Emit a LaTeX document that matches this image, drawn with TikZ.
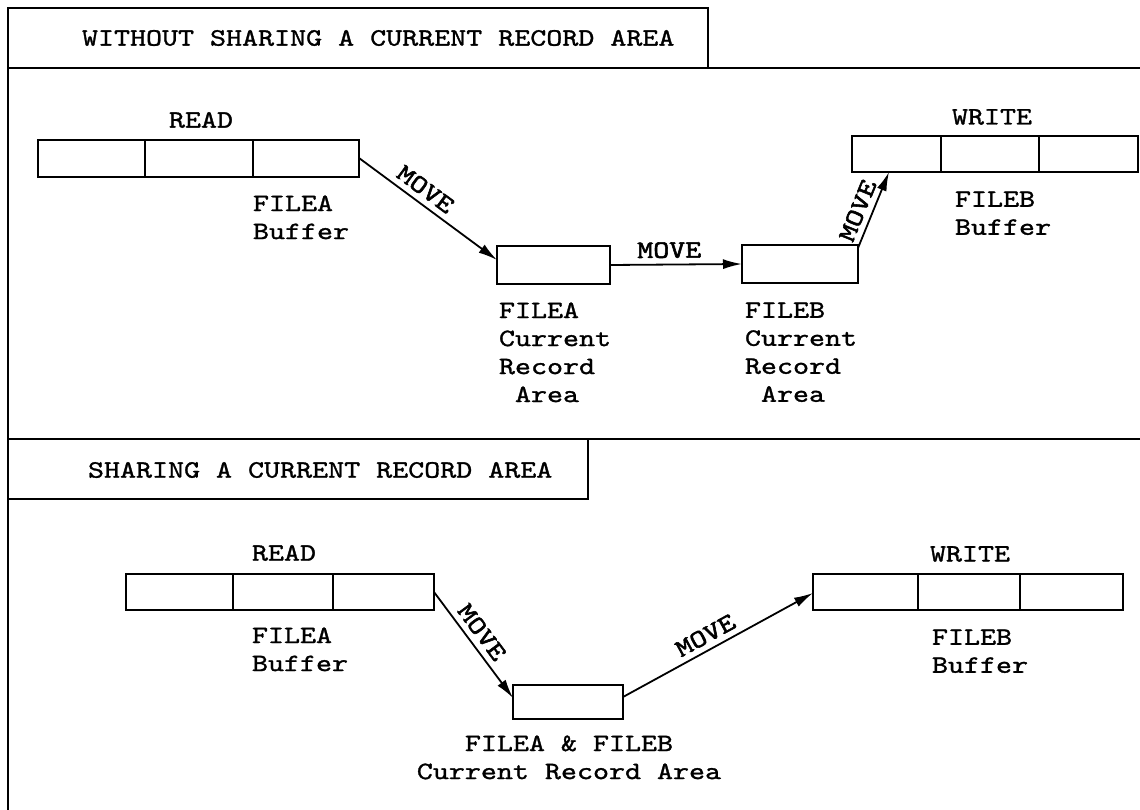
\documentclass[tikz,border=0pt]{standalone}
\usepackage{fontspec}
\newfontfamily\tw{lmmono10-regular}[Extension=.otf, FakeStretch=1.22, FakeBold=1.2]
\newfontfamily\twb{lmmono10-regular}[Extension=.otf, FakeStretch=1.22, FakeBold=2.2]
\usetikzlibrary{arrows.meta,calc}
\begin{document}
\begin{tikzpicture}[x=1pt,y=-1pt,
  every node/.style={font=\tw\fontsize{25}{28}\selectfont, inner sep=0pt, outer sep=0pt},
  frame/.style={line width=2.2pt, line cap=rect},
  box/.style={draw, line width=1.8pt, anchor=north west},
  arr/.style={-{Latex[length=19pt,width=10pt]}, line width=1.8pt},
  txt/.style={align=left, anchor=north west},
  lbl/.style={sloped, above=6.5pt, font=\twb\fontsize{25}{28}\selectfont}]
\useasboundingbox (0,0) rectangle (1140,810);
% frame
\draw[frame] (8,810) -- (8,8) -- (708,8) -- (708,68);
\draw[frame] (8,68) -- (1141,68);
\draw[frame] (8,439) -- (1141,439);
\draw[frame] (588,439) -- (588,499) -- (8,499);
\node[anchor=west] (t1) at (82,38) {WITHOUT SHARING A CURRENT RECORD AREA};
\node[anchor=west] (t2) at (88,470) {SHARING A CURRENT RECORD AREA};
% ---- top section ----
\node[box, minimum width=107pt, minimum height=37pt] (a1) at (38,140) {};
\node[box, minimum width=108pt, minimum height=37pt] (a2) at (145,140) {};
\node[box, minimum width=106pt, minimum height=37pt] (a3) at (253,140) {};
\node (readA) at (201,120) {READ};
\node[txt] (fa) at (253,195.5) {FILEA\\Buffer};
\node[box, minimum width=113pt, minimum height=38pt] (ca) at (497,246) {};
\node[box, minimum width=116pt, minimum height=38pt] (cb) at (742,245) {};
\node[txt] (tca) at (499,302.5) {FILEA\\Current\\Record\\\phantom{A}Area};
\node[txt] (tcb) at (745,302.5) {FILEB\\Current\\Record\\\phantom{A}Area};
\node[box, minimum width=89pt, minimum height=36pt] (b1) at (852,136) {};
\node[box, minimum width=98pt, minimum height=36pt] (b2) at (941,136) {};
\node[box, minimum width=99pt, minimum height=36pt] (b3) at (1039,136) {};
\node (writeB) at (992,117) {WRITE};
\node[txt] (fb) at (955,191.5) {FILEB\\Buffer};
\draw[arr] ($(a3.north east)+(0,18)$) -- node[lbl, pos=0.42] {MOVE} ($(ca.north west)+(0,14)$);
\draw[arr] (ca.east) -- node[lbl, pos=0.45] {MOVE} (cb.west);
\draw[arr] ($(cb.north east)+(0,3)$) -- node[lbl, pos=0.42] {MOVE} ($(b1.south west)+(37,0)$);
% ---- bottom section ----
\node[box, minimum width=107pt, minimum height=36pt] (d1) at (126,574) {};
\node[box, minimum width=100pt, minimum height=36pt] (d2) at (233,574) {};
\node[box, minimum width=101pt, minimum height=36pt] (d3) at (333,574) {};
\node (readB) at (284,553) {READ};
\node[txt] (fd) at (252,627.5) {FILEA\\Buffer};
\node[box, minimum width=110pt, minimum height=34pt] (cc) at (513,685) {};
\node[align=center, anchor=north] (tcc) at (569,735.5) {FILEA \& FILEB\\Current Record Area};
\node[box, minimum width=105pt, minimum height=36pt] (e1) at (813,574) {};
\node[box, minimum width=102pt, minimum height=36pt] (e2) at (918,574) {};
\node[box, minimum width=103pt, minimum height=36pt] (e3) at (1020,574) {};
\node (writeE) at (970,554) {WRITE};
\node[txt] (fe) at (932,629.5) {FILEB\\Buffer};
\draw[arr] ($(d3.north east)+(0,18)$) -- node[lbl, pos=0.46] {MOVE} ($(cc.north west)+(0,13)$);
\draw[arr] ($(cc.north east)+(0,12)$) -- node[lbl, pos=0.47] {MOVE} ($(e1.north west)+(0,19)$);
\end{tikzpicture}
\end{document}
